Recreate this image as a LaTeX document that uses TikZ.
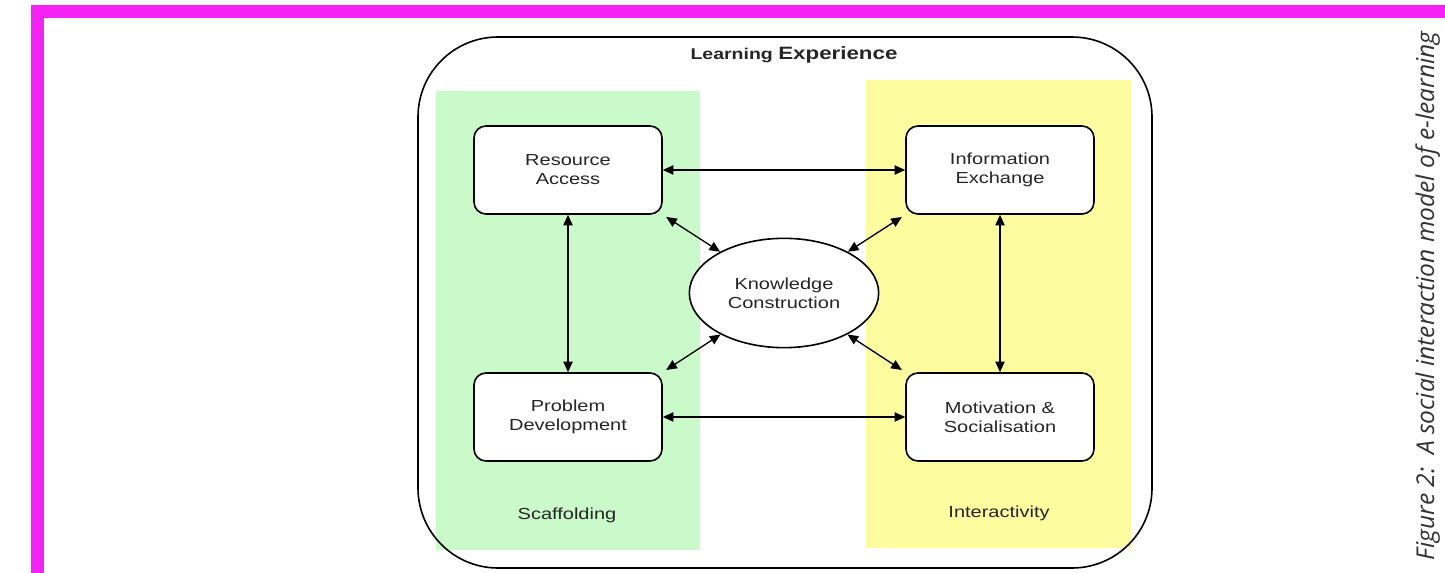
\documentclass[tikz,border=0pt]{standalone}
\usepackage{fontspec}
\setmainfont{Liberation Sans}[FakeStretch=1.25]
\newfontfamily\capfont{Open Sans}
\usetikzlibrary{arrows.meta,shapes}
\definecolor{framepink}{RGB}{245,34,245}
\definecolor{scaffgreen}{RGB}{202,249,202}
\definecolor{interyellow}{RGB}{253,253,160}

\begin{document}
\begin{tikzpicture}
    [x=0.75pt,y=-0.75pt,
     every node/.style={font=\fontsize{12}{14.25}\selectfont, text=black!85, align=center},
     box/.style={draw, line width=1.2pt, rounded corners=9pt, fill=white, minimum width=141pt, minimum height=66pt, inner sep=0pt},
     link/.style={{Triangle[length=8pt,width=7pt]}-{Triangle[length=8pt,width=7pt]}, line width=1pt}]
  \useasboundingbox (0,0) rectangle (1445,573);
  % frame and bands
  \fill[framepink] (31,5) rectangle (1445,18);
  \fill[framepink] (31,5) rectangle (44,573);
  \fill[scaffgreen] (436,91) rectangle (700,550);
  \fill[interyellow] (866,80) rectangle (1131,548);
  \draw[line width=1.2pt, rounded corners=60pt] (418,37) rectangle (1152,568);

  \node (le) at (794,55) {\fontsize{11.7}{14}\selectfont\textbf{Learning} {\fontsize{13.4}{16}\selectfont\textbf{Experience}}};
  \node[box] (ra) at (568,170) {Resource\\Access};
  \node[box] (ie) at (1000,170) {Information\\Exchange};
  \node[box] (pd) at (568,417) {Problem\\Development};
  \node[box] (ms) at (1000,417) {Motivation \&\\Socialisation};
  \node[draw, ellipse, line width=1.2pt, fill=white, minimum width=142pt, minimum height=82pt, inner sep=0pt] (kc) at (784,293) {Knowledge\\Construction};
  \node (sc) at (567,515) {Scaffolding};
  \node (ia) at (999,513) {Interactivity};

  \foreach \from/\to in {ra/ie, pd/ms, ra/pd, ie/ms}
    \draw[link] (\from) -- (\to);
  \foreach \from/\to in {ra.south east/kc, ie.south west/kc, pd.north east/kc, ms.north west/kc}
    \draw[link, shorten <=3pt] (\from) -- (\to);

  \node[rotate=90, anchor=base west, font=\capfont\itshape\fontsize{18.4}{22}\selectfont, text=black!80] (cap) at (1434,565) {Figure 2:\ \ A social interaction model of e-learning};
\end{tikzpicture}
\end{document}
